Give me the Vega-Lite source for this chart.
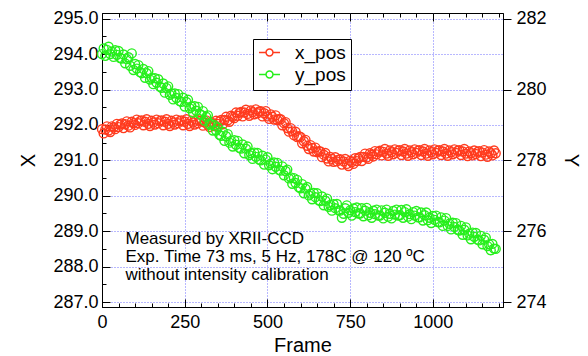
{
  "$schema": "https://vega.github.io/schema/vega-lite/v6.json",
  "width": 401,
  "height": 294,
  "autosize": {"type": "none"},
  "padding": {"left": 102, "top": 13, "right": 85, "bottom": 49},
  "background": "white",
  "datasets": {
    "xpos": [
{"frame":0,"value":291.88},{"frame":5,"value":291.76},{"frame":10,"value":291.87},{"frame":15,"value":291.96},{"frame":20,"value":291.84},{"frame":25,"value":291.80},{"frame":30,"value":291.96},{"frame":35,"value":291.93},{"frame":40,"value":291.88},{"frame":45,"value":292.03},
{"frame":50,"value":291.94},{"frame":55,"value":292.01},{"frame":60,"value":292.04},{"frame":65,"value":291.91},{"frame":70,"value":292.02},{"frame":75,"value":292.10},{"frame":80,"value":291.98},{"frame":85,"value":291.93},{"frame":90,"value":292.09},{"frame":95,"value":292.05},
{"frame":100,"value":292.00},{"frame":105,"value":292.15},{"frame":110,"value":292.05},{"frame":115,"value":292.11},{"frame":120,"value":292.13},{"frame":125,"value":291.99},{"frame":130,"value":292.09},{"frame":135,"value":292.16},{"frame":140,"value":292.03},{"frame":145,"value":291.97},
{"frame":150,"value":292.12},{"frame":155,"value":292.07},{"frame":160,"value":292.01},{"frame":165,"value":292.15},{"frame":170,"value":292.05},{"frame":175,"value":292.11},{"frame":180,"value":292.13},{"frame":185,"value":291.99},{"frame":190,"value":292.09},{"frame":195,"value":292.16},
{"frame":200,"value":292.03},{"frame":205,"value":291.97},{"frame":210,"value":292.12},{"frame":215,"value":292.07},{"frame":220,"value":292.01},{"frame":225,"value":292.15},{"frame":230,"value":292.05},{"frame":235,"value":292.11},{"frame":240,"value":292.13},{"frame":245,"value":291.99},
{"frame":250,"value":292.09},{"frame":255,"value":292.16},{"frame":260,"value":292.03},{"frame":265,"value":291.97},{"frame":270,"value":292.12},{"frame":275,"value":292.07},{"frame":280,"value":292.01},{"frame":285,"value":292.15},{"frame":290,"value":292.05},{"frame":295,"value":292.11},
{"frame":300,"value":292.13},{"frame":305,"value":291.98},{"frame":310,"value":292.07},{"frame":315,"value":292.13},{"frame":320,"value":292.00},{"frame":325,"value":291.94},{"frame":330,"value":292.08},{"frame":335,"value":292.03},{"frame":340,"value":291.97},{"frame":345,"value":292.12},
{"frame":350,"value":292.03},{"frame":355,"value":292.10},{"frame":360,"value":292.14},{"frame":365,"value":292.02},{"frame":370,"value":292.14},{"frame":375,"value":292.23},{"frame":380,"value":292.13},{"frame":385,"value":292.09},{"frame":390,"value":292.26},{"frame":395,"value":292.23},
{"frame":400,"value":292.19},{"frame":405,"value":292.35},{"frame":410,"value":292.26},{"frame":415,"value":292.34},{"frame":420,"value":292.37},{"frame":425,"value":292.24},{"frame":430,"value":292.35},{"frame":435,"value":292.43},{"frame":440,"value":292.31},{"frame":445,"value":292.26},
{"frame":450,"value":292.41},{"frame":455,"value":292.36},{"frame":460,"value":292.30},{"frame":465,"value":292.44},{"frame":470,"value":292.33},{"frame":475,"value":292.38},{"frame":480,"value":292.39},{"frame":485,"value":292.24},{"frame":490,"value":292.33},{"frame":495,"value":292.39},
{"frame":500,"value":292.24},{"frame":505,"value":292.17},{"frame":510,"value":292.30},{"frame":515,"value":292.23},{"frame":520,"value":292.15},{"frame":525,"value":292.27},{"frame":530,"value":292.14},{"frame":535,"value":292.17},{"frame":540,"value":292.16},{"frame":545,"value":291.99},
{"frame":550,"value":292.05},{"frame":555,"value":292.08},{"frame":560,"value":291.91},{"frame":565,"value":291.81},{"frame":570,"value":291.91},{"frame":575,"value":291.82},{"frame":580,"value":291.71},{"frame":585,"value":291.81},{"frame":590,"value":291.66},{"frame":595,"value":291.68},
{"frame":600,"value":291.66},{"frame":605,"value":291.48},{"frame":610,"value":291.54},{"frame":615,"value":291.58},{"frame":620,"value":291.41},{"frame":625,"value":291.32},{"frame":630,"value":291.43},{"frame":635,"value":291.35},{"frame":640,"value":291.25},{"frame":645,"value":291.36},
{"frame":650,"value":291.23},{"frame":655,"value":291.26},{"frame":660,"value":291.25},{"frame":665,"value":291.09},{"frame":670,"value":291.16},{"frame":675,"value":291.21},{"frame":680,"value":291.05},{"frame":685,"value":290.97},{"frame":690,"value":291.10},{"frame":695,"value":291.04},
{"frame":700,"value":290.96},{"frame":705,"value":291.09},{"frame":710,"value":290.97},{"frame":715,"value":291.02},{"frame":720,"value":291.03},{"frame":725,"value":290.88},{"frame":730,"value":290.97},{"frame":735,"value":291.04},{"frame":740,"value":290.90},{"frame":745,"value":290.84},
{"frame":750,"value":290.99},{"frame":755,"value":290.95},{"frame":760,"value":290.90},{"frame":765,"value":291.06},{"frame":770,"value":290.98},{"frame":775,"value":291.06},{"frame":780,"value":291.10},{"frame":785,"value":290.98},{"frame":790,"value":291.10},{"frame":795,"value":291.19},
{"frame":800,"value":291.08},{"frame":805,"value":291.04},{"frame":810,"value":291.20},{"frame":815,"value":291.16},{"frame":820,"value":291.11},{"frame":825,"value":291.26},{"frame":830,"value":291.17},{"frame":835,"value":291.24},{"frame":840,"value":291.27},{"frame":845,"value":291.14},
{"frame":850,"value":291.24},{"frame":855,"value":291.32},{"frame":860,"value":291.19},{"frame":865,"value":291.13},{"frame":870,"value":291.28},{"frame":875,"value":291.23},{"frame":880,"value":291.17},{"frame":885,"value":291.31},{"frame":890,"value":291.21},{"frame":895,"value":291.27},
{"frame":900,"value":291.29},{"frame":905,"value":291.15},{"frame":910,"value":291.25},{"frame":915,"value":291.32},{"frame":920,"value":291.19},{"frame":925,"value":291.13},{"frame":930,"value":291.28},{"frame":935,"value":291.23},{"frame":940,"value":291.17},{"frame":945,"value":291.31},
{"frame":950,"value":291.21},{"frame":955,"value":291.27},{"frame":960,"value":291.29},{"frame":965,"value":291.15},{"frame":970,"value":291.25},{"frame":975,"value":291.32},{"frame":980,"value":291.19},{"frame":985,"value":291.13},{"frame":990,"value":291.28},{"frame":995,"value":291.23},
{"frame":1000,"value":291.17},{"frame":1005,"value":291.31},{"frame":1010,"value":291.21},{"frame":1015,"value":291.27},{"frame":1020,"value":291.29},{"frame":1025,"value":291.15},{"frame":1030,"value":291.25},{"frame":1035,"value":291.32},{"frame":1040,"value":291.19},{"frame":1045,"value":291.13},
{"frame":1050,"value":291.28},{"frame":1055,"value":291.23},{"frame":1060,"value":291.17},{"frame":1065,"value":291.31},{"frame":1070,"value":291.21},{"frame":1075,"value":291.27},{"frame":1080,"value":291.29},{"frame":1085,"value":291.15},{"frame":1090,"value":291.25},{"frame":1095,"value":291.32},
{"frame":1100,"value":291.19},{"frame":1105,"value":291.12},{"frame":1110,"value":291.25},{"frame":1115,"value":291.20},{"frame":1120,"value":291.14},{"frame":1125,"value":291.28},{"frame":1130,"value":291.18},{"frame":1135,"value":291.24},{"frame":1140,"value":291.26},{"frame":1145,"value":291.12},
{"frame":1150,"value":291.22},{"frame":1155,"value":291.29},{"frame":1160,"value":291.16},{"frame":1165,"value":291.10},{"frame":1170,"value":291.25},{"frame":1175,"value":291.20},{"frame":1180,"value":291.14},{"frame":1185,"value":291.28},{"frame":1190,"value":291.20}
    ],
    "ypos": [
{"frame":0,"value":281.00},{"frame":5,"value":281.16},{"frame":10,"value":280.95},{"frame":15,"value":281.12},{"frame":20,"value":281.21},{"frame":25,"value":281.00},{"frame":30,"value":281.07},{"frame":35,"value":280.92},{"frame":40,"value":281.11},{"frame":45,"value":280.98},
{"frame":50,"value":281.09},{"frame":55,"value":280.89},{"frame":60,"value":280.87},{"frame":65,"value":280.99},{"frame":70,"value":280.74},{"frame":75,"value":280.86},{"frame":80,"value":280.91},{"frame":85,"value":280.67},{"frame":90,"value":281.02},{"frame":95,"value":280.55},
{"frame":100,"value":280.72},{"frame":105,"value":280.59},{"frame":110,"value":280.69},{"frame":115,"value":280.49},{"frame":120,"value":280.46},{"frame":125,"value":280.58},{"frame":130,"value":280.33},{"frame":135,"value":280.46},{"frame":140,"value":280.52},{"frame":145,"value":280.28},
{"frame":150,"value":280.33},{"frame":155,"value":280.15},{"frame":160,"value":280.32},{"frame":165,"value":280.19},{"frame":170,"value":280.29},{"frame":175,"value":280.08},{"frame":180,"value":280.05},{"frame":185,"value":280.17},{"frame":190,"value":279.91},{"frame":195,"value":280.04},
{"frame":200,"value":280.09},{"frame":205,"value":279.85},{"frame":210,"value":279.89},{"frame":215,"value":279.72},{"frame":220,"value":279.89},{"frame":225,"value":279.76},{"frame":230,"value":279.87},{"frame":235,"value":279.67},{"frame":240,"value":279.65},{"frame":245,"value":279.77},
{"frame":250,"value":279.52},{"frame":255,"value":279.65},{"frame":260,"value":279.71},{"frame":265,"value":279.47},{"frame":270,"value":279.52},{"frame":275,"value":279.35},{"frame":280,"value":279.53},{"frame":285,"value":279.40},{"frame":290,"value":279.51},{"frame":295,"value":279.31},
{"frame":300,"value":279.28},{"frame":305,"value":279.39},{"frame":310,"value":279.12},{"frame":315,"value":279.23},{"frame":320,"value":279.27},{"frame":325,"value":279.01},{"frame":330,"value":279.03},{"frame":335,"value":278.84},{"frame":340,"value":278.99},{"frame":345,"value":278.84},
{"frame":350,"value":278.93},{"frame":355,"value":278.72},{"frame":360,"value":278.69},{"frame":365,"value":278.81},{"frame":370,"value":278.55},{"frame":375,"value":278.68},{"frame":380,"value":278.74},{"frame":385,"value":278.50},{"frame":390,"value":278.55},{"frame":395,"value":278.39},
{"frame":400,"value":278.57},{"frame":405,"value":278.44},{"frame":410,"value":278.55},{"frame":415,"value":278.35},{"frame":420,"value":278.33},{"frame":425,"value":278.45},{"frame":430,"value":278.20},{"frame":435,"value":278.33},{"frame":440,"value":278.39},{"frame":445,"value":278.15},
{"frame":450,"value":278.20},{"frame":455,"value":278.04},{"frame":460,"value":278.22},{"frame":465,"value":278.10},{"frame":470,"value":278.21},{"frame":475,"value":278.02},{"frame":480,"value":278.00},{"frame":485,"value":278.13},{"frame":490,"value":277.88},{"frame":495,"value":278.02},
{"frame":500,"value":278.09},{"frame":505,"value":277.86},{"frame":510,"value":277.91},{"frame":515,"value":277.75},{"frame":520,"value":277.94},{"frame":525,"value":277.82},{"frame":530,"value":277.93},{"frame":535,"value":277.73},{"frame":540,"value":277.71},{"frame":545,"value":277.83},
{"frame":550,"value":277.58},{"frame":555,"value":277.70},{"frame":560,"value":277.74},{"frame":565,"value":277.49},{"frame":570,"value":277.52},{"frame":575,"value":277.34},{"frame":580,"value":277.50},{"frame":585,"value":277.36},{"frame":590,"value":277.45},{"frame":595,"value":277.24},
{"frame":600,"value":277.21},{"frame":605,"value":277.33},{"frame":610,"value":277.07},{"frame":615,"value":277.20},{"frame":620,"value":277.25},{"frame":625,"value":277.01},{"frame":630,"value":277.06},{"frame":635,"value":276.90},{"frame":640,"value":277.08},{"frame":645,"value":276.96},
{"frame":650,"value":277.07},{"frame":655,"value":276.87},{"frame":660,"value":276.85},{"frame":665,"value":276.98},{"frame":670,"value":276.73},{"frame":675,"value":276.86},{"frame":680,"value":276.92},{"frame":685,"value":276.69},{"frame":690,"value":276.74},{"frame":695,"value":276.58},
{"frame":700,"value":276.76},{"frame":705,"value":276.65},{"frame":710,"value":276.77},{"frame":715,"value":276.59},{"frame":720,"value":276.58},{"frame":725,"value":276.38},{"frame":730,"value":276.49},{"frame":735,"value":276.65},{"frame":740,"value":276.73},{"frame":745,"value":276.52},
{"frame":750,"value":276.59},{"frame":755,"value":276.44},{"frame":760,"value":276.64},{"frame":765,"value":276.54},{"frame":770,"value":276.67},{"frame":775,"value":276.50},{"frame":780,"value":276.50},{"frame":785,"value":276.65},{"frame":790,"value":276.42},{"frame":795,"value":276.58},
{"frame":800,"value":276.66},{"frame":805,"value":276.45},{"frame":810,"value":276.52},{"frame":815,"value":276.38},{"frame":820,"value":276.58},{"frame":825,"value":276.48},{"frame":830,"value":276.61},{"frame":835,"value":276.44},{"frame":840,"value":276.44},{"frame":845,"value":276.59},
{"frame":850,"value":276.36},{"frame":855,"value":276.52},{"frame":860,"value":276.61},{"frame":865,"value":276.41},{"frame":870,"value":276.49},{"frame":875,"value":276.36},{"frame":880,"value":276.57},{"frame":885,"value":276.47},{"frame":890,"value":276.61},{"frame":895,"value":276.44},
{"frame":900,"value":276.45},{"frame":905,"value":276.60},{"frame":910,"value":276.38},{"frame":915,"value":276.54},{"frame":920,"value":276.62},{"frame":925,"value":276.41},{"frame":930,"value":276.48},{"frame":935,"value":276.34},{"frame":940,"value":276.54},{"frame":945,"value":276.44},
{"frame":950,"value":276.57},{"frame":955,"value":276.39},{"frame":960,"value":276.39},{"frame":965,"value":276.53},{"frame":970,"value":276.30},{"frame":975,"value":276.45},{"frame":980,"value":276.53},{"frame":985,"value":276.31},{"frame":990,"value":276.38},{"frame":995,"value":276.23},
{"frame":1000,"value":276.43},{"frame":1005,"value":276.32},{"frame":1010,"value":276.44},{"frame":1015,"value":276.26},{"frame":1020,"value":276.25},{"frame":1025,"value":276.39},{"frame":1030,"value":276.15},{"frame":1035,"value":276.30},{"frame":1040,"value":276.37},{"frame":1045,"value":276.15},
{"frame":1050,"value":276.21},{"frame":1055,"value":276.05},{"frame":1060,"value":276.24},{"frame":1065,"value":276.12},{"frame":1070,"value":276.23},{"frame":1075,"value":276.04},{"frame":1080,"value":276.02},{"frame":1085,"value":276.15},{"frame":1090,"value":275.90},{"frame":1095,"value":276.04},
{"frame":1100,"value":276.11},{"frame":1105,"value":275.88},{"frame":1110,"value":275.93},{"frame":1115,"value":275.77},{"frame":1120,"value":275.96},{"frame":1125,"value":275.84},{"frame":1130,"value":275.95},{"frame":1135,"value":275.76},{"frame":1140,"value":275.74},{"frame":1145,"value":275.87},
{"frame":1150,"value":275.63},{"frame":1155,"value":275.76},{"frame":1160,"value":275.82},{"frame":1165,"value":275.58},{"frame":1170,"value":275.63},{"frame":1175,"value":275.46},{"frame":1180,"value":275.64},{"frame":1185,"value":275.51},{"frame":1190,"value":275.50}
    ]
  },
  "layer": [
    {
      "data": {"name": "xpos"},
      "mark": {"type": "point", "filled": false, "size": 80, "strokeWidth": 1.4, "opacity": 1},
      "encoding": {
        "x": {"field": "frame", "type": "quantitative", "scale": {"domain": [0, 1212], "nice": false, "zero": false},
              "axis": {"orient": "bottom", "title": "Frame", "values": [0, 250, 500, 750, 1000], "format": "d", "ticks": false, "labelPadding": 6, "grid": true, "titlePadding": 4}},
        "y": {"field": "value", "type": "quantitative", "scale": {"domain": [286.86, 295.16], "nice": false, "zero": false},
              "axis": {"orient": "left", "title": "X", "values": [287, 288, 289, 290, 291, 292, 293, 294, 295], "format": ".1f", "ticks": false, "labelPadding": 4, "grid": true, "titlePadding": 14}},
        "color": {"datum": "x_pos", "type": "nominal", "scale": {"domain": ["x_pos", "y_pos"], "range": ["#ff3b1e", "#26ef1c"]},
                  "legend": {"title": null, "orient": "none", "legendX": 151, "legendY": 26}}
      }
    },
    {
      "data": {"name": "ypos"},
      "mark": {"type": "point", "filled": false, "size": 80, "strokeWidth": 1.4, "opacity": 1},
      "encoding": {
        "x": {"field": "frame", "type": "quantitative", "scale": {"domain": [0, 1212], "nice": false, "zero": false},
              "axis": {"orient": "top", "title": null, "values": [0, 250, 500, 750, 1000], "tickSize": 8, "offset": -8, "labels": false, "grid": false, "domain": false}},
        "y": {"field": "value", "type": "quantitative", "scale": {"domain": [273.86, 282.16], "nice": false, "zero": false},
              "axis": {"orient": "right", "title": "Y", "values": [274, 276, 278, 280, 282], "format": "d", "tickSize": 8, "labelPadding": 5, "grid": false, "titlePadding": 14}},
        "color": {"datum": "y_pos", "type": "nominal", "scale": {"domain": ["x_pos", "y_pos"], "range": ["#ff3b1e", "#26ef1c"]}}
      }
    },
    {
      "data": {"values": [{}]},
      "mark": {"type": "text", "text": "Measured by XRII-CCD", "align": "left", "baseline": "middle", "fontSize": 17, "font": "Liberation Sans", "color": "black"},
      "encoding": {
        "x": {"datum": 71, "type": "quantitative", "scale": {"domain": [0, 1212], "nice": false, "zero": false},
              "axis": {"orient": "bottom", "title": null, "values": [0,50,100,150,200,250,300,350,400,450,500,550,600,650,700,750,800,850,900,950,1000,1050,1100,1150,1200], "tickSize": 4, "offset": -4, "labels": false, "grid": false, "domain": false}},
        "y": {"datum": 288.79, "type": "quantitative", "scale": {"domain": [286.86, 295.16], "nice": false, "zero": false},
              "axis": {"orient": "left", "title": null, "values": [287,287.5,288,288.5,289,289.5,290,290.5,291,291.5,292,292.5,293,293.5,294,294.5,295], "tickSize": 4, "offset": -4, "labels": false, "grid": false, "domain": false}}
      }
    },
    {
      "data": {"values": [{}]},
      "mark": {"type": "text", "text": "Exp. Time 73 ms, 5 Hz, 178C @ 120 ºC", "align": "left", "baseline": "middle", "fontSize": 17, "font": "Liberation Sans", "color": "black"},
      "encoding": {
        "x": {"datum": 71, "type": "quantitative", "scale": {"domain": [0, 1212], "nice": false, "zero": false},
              "axis": {"orient": "top", "title": null, "values": [0,50,100,150,200,250,300,350,400,450,500,550,600,650,700,750,800,850,900,950,1000,1050,1100,1150,1200], "tickSize": 4, "offset": -4, "labels": false, "grid": false, "domain": false}},
        "y": {"datum": 288.28, "type": "quantitative", "scale": {"domain": [286.86, 295.16], "nice": false, "zero": false},
              "axis": {"orient": "left", "title": null, "values": [287, 288, 289, 290, 291, 292, 293, 294, 295], "tickSize": 8, "offset": -8, "labels": false, "grid": false, "domain": false}}
      }
    },
    {
      "data": {"values": [{}]},
      "mark": {"type": "text", "text": "without intensity calibration", "align": "left", "baseline": "middle", "fontSize": 17, "font": "Liberation Sans", "color": "black"},
      "encoding": {
        "x": {"datum": 71, "type": "quantitative", "scale": {"domain": [0, 1212], "nice": false, "zero": false},
              "axis": {"orient": "bottom", "title": null, "values": [0, 250, 500, 750, 1000], "tickSize": 8, "offset": -8, "labels": false, "grid": false, "domain": false}},
        "y": {"datum": 287.77, "type": "quantitative", "scale": {"domain": [286.86, 295.16], "nice": false, "zero": false}, "axis": null}
      }
    }
  ],
  "resolve": {"scale": {"x": "independent", "y": "independent"}, "axis": {"x": "independent", "y": "independent"}},
  "config": {
    "font": "Liberation Sans",
    "view": {"stroke": "black", "strokeWidth": 1},
    "axis": {
      "domainColor": "black", "domainWidth": 1, "tickColor": "black", "tickWidth": 1,
      "labelFont": "Liberation Sans", "labelFontSize": 18, "labelColor": "black",
      "titleFont": "Liberation Sans", "titleFontSize": 20, "titleFontWeight": "normal", "titleColor": "black",
      "gridColor": "#7070ff", "gridDash": [1, 2], "gridWidth": 1, "gridOpacity": 1,
      "labelFlush": false, "labelOverlap": false
    },
    "legend": {
      "strokeColor": "black", "fillColor": "white", "padding": 5,
      "labelFont": "Liberation Sans", "labelFontSize": 19, "labelColor": "black",
      "symbolType": "M-1,0L-0.33,0M0.33,0L1,0M-0.33,0A0.33,0.33,0,1,1,0.33,0A0.33,0.33,0,1,1,-0.33,0",
      "symbolSize": 441, "symbolStrokeWidth": 1.5, "labelOffset": 14, "rowPadding": 2, "clipHeight": 17
    }
  }
}
